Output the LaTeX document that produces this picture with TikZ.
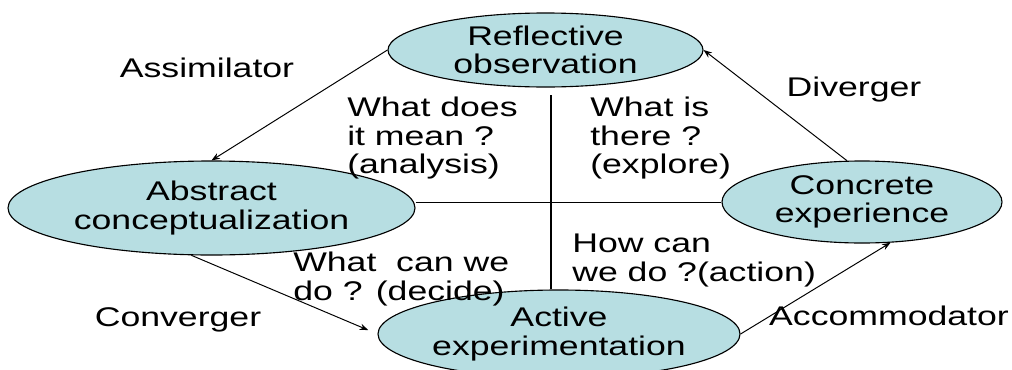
\documentclass[tikz,border=0pt]{standalone}
\usepackage{fontspec}
\setmainfont[FakeStretch=1.32]{Liberation Sans}
\usetikzlibrary{shapes.geometric,arrows.meta,positioning,calc}
\definecolor{cyclefill}{HTML}{B7DEE2}
\definecolor{cycleline}{HTML}{000000}

\tikzset{
  stage/.style={ellipse, draw=cycleline, line width=0.8pt, fill=cyclefill, inner sep=0pt, align=center, font=\fontsize{19.2}{20.3}\selectfont},
  style label/.style={font=\fontsize{19.2}{20.3}\selectfont, inner sep=0pt},
  question/.style={font=\fontsize{19.2}{20.3}\selectfont, align=left, anchor=north west, inner sep=0pt},
  flow/.style={line width=0.7pt, -{Stealth[length=6pt,width=4.5pt]}}
}

\begin{document}
\begin{tikzpicture}[x=0.025cm, y=-0.025cm]
  \useasboundingbox (0,0) rectangle (1012,369);
  % Stages of the cycle
  \node[stage, minimum width=315*0.025cm, minimum height=74*0.025cm] (refl) at (545.5,50)  {Reflective\\observation};
  \node[stage, minimum width=407*0.025cm, minimum height=94*0.025cm] (abst) at (211.5,208) {Abstract\\conceptualization};
  \node[stage, minimum width=280*0.025cm, minimum height=82*0.025cm] (conc) at (862,202)   {Concrete\\experience};
  \node[stage, minimum width=362*0.025cm, minimum height=88*0.025cm] (actv) at (559,334)   {Active\\experimentation};
  % Axes
  \coordinate (vtop) at (551,95);
  \draw[line width=1.4pt] (vtop) -- (vtop |- actv.north);
  \draw[line width=0.7pt] (conc.west -| abst.east) -- (conc.west);
  % Arrows round the cycle
  \draw[flow] (refl.west) -- (abst.north);
  \draw[flow, shorten >=10*0.025cm] (abst.247) -- (actv.west);
  \draw[flow] (actv.east) -- (conc.-55);
  \draw[flow] (conc.110) -- (refl.east);
  % Learning styles
  \node[style label, anchor=base] (assim) at (207,77)  {Assimilator};
  \node[style label, anchor=base] (diver) at (854,96)  {Diverger};
  \node[style label, anchor=base] (conv)  at (178,326) {Converger};
  \node[style label, anchor=base] (accom) at (889,325) {Accommodator};
  % Questions in the quadrants
  \node[question] (qanalysis) at (347,97)  {What does\\it mean ?\\(analysis)};
  \node[question] (qexplore)  at (590,97)  {What is\\there ?\\(explore)};
  \node[question] (qdecide)   at (293,252) {What\ \ can we\\do ? (decide)};
  \node[question] (qaction)   at (572,234) {How can\\we do ?(action)};
\end{tikzpicture}
\end{document}
